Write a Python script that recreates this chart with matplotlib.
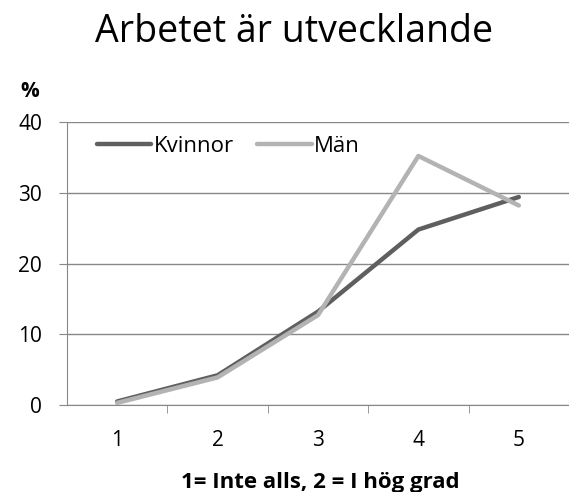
import matplotlib
matplotlib.use("Agg")
import matplotlib.pyplot as plt

plt.rcParams['font.family'] = ['Open Sans', 'DejaVu Sans']

# Data
categories = [1, 2, 3, 4, 5]
kvinnor = [0.5, 4.2, 13.2, 24.8, 29.4]
man = [0.3, 3.9, 12.7, 35.2, 28.2]

W, H = 569, 492
fig = plt.figure(figsize=(W / 100, H / 100), dpi=100)
ax = fig.add_axes([67 / W, 1 - 405 / H, 502 / W, 283 / H])

ax.plot(categories, kvinnor, color='#5f5f5f', lw=3.2, label='Kvinnor', solid_capstyle='round')
ax.plot(categories, man, color='#b3b3b3', lw=3.2, label='Män', solid_capstyle='round')

ax.set_xlim(0.5, 5.5)
ax.set_ylim(0, 40)
ax.set_yticks([0, 10, 20, 30, 40])
ax.set_xticks(categories)
ax.set_xticks([1.5, 2.5, 3.5, 4.5, 5.5], minor=True)
ax.tick_params(axis='x', which='major', length=0, pad=18, labelsize=15)
ax.tick_params(axis='x', which='minor', length=6, color='#888888')
ax.tick_params(axis='y', length=6, color='#888888', labelsize=15, pad=12)
ax.grid(axis='y', color='#888888', lw=1)
ax.set_axisbelow(True)
for s in ['top', 'right']:
    ax.spines[s].set_visible(False)
for s in ['left', 'bottom']:
    ax.spines[s].set_color('#888888')

fig.text(320 / W, 1 - 488 / H, '1= Inte alls, 2 = I hög grad', fontsize=16,
         fontweight='bold', ha='center', va='baseline')
fig.text(30 / W, 1 - 97 / H, '%', fontsize=15, fontweight='bold', ha='center', va='baseline')
fig.text(294 / W, 1 - 42 / H, 'Arbetet är utvecklande', fontsize=27, ha='center', va='baseline')

ax.legend(loc='center left', ncol=2, frameon=False, fontsize=16, handlelength=2.45,
          handletextpad=0.1, columnspacing=1.05, borderpad=0, borderaxespad=0,
          bbox_to_anchor=(97 / W, 1 - 146 / H), bbox_transform=fig.transFigure)

fig.savefig('out.png', dpi=100)
